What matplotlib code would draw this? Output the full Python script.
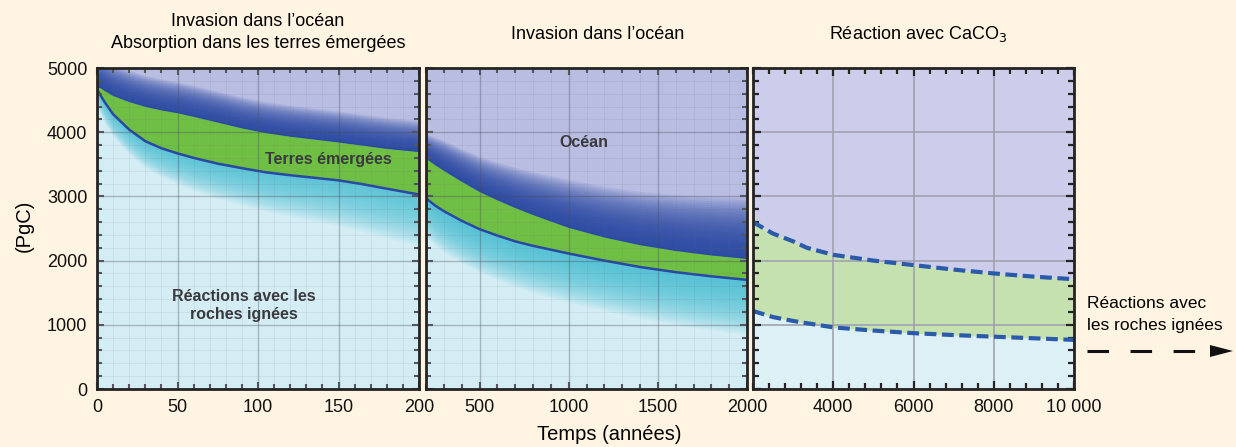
import numpy as np
import matplotlib
matplotlib.use("Agg")
import matplotlib.pyplot as plt
from matplotlib.lines import Line2D
from matplotlib.patches import Polygon
from matplotlib.ticker import MultipleLocator, FixedLocator, FixedFormatter

plt.rcParams['font.family'] = ['Liberation Sans', 'DejaVu Sans']
plt.rcParams['lines.scale_dashes'] = False

# ---------------- data ----------------
# Panel 1: 0-200 years
p1_t = [0, 2, 5, 10, 20, 30, 40, 50, 60, 75, 90, 105, 120, 135, 150, 165, 180, 200]
p1_land_top = [4690, 4700, 4650, 4575, 4480, 4405, 4350, 4305, 4250, 4160, 4070,
               3995, 3940, 3895, 3850, 3800, 3750, 3700]
p1_land_bottom = [4670, 4580, 4460, 4280, 4040, 3860, 3750, 3670, 3600, 3510, 3440,
                  3375, 3330, 3290, 3250, 3190, 3120, 3030]

# Panel 2: 200-2000 years
p2_t = [200, 250, 300, 400, 500, 600, 700, 800, 900, 1000, 1200, 1400, 1600, 1800, 2000]
p2_land_top = [3600, 3500, 3410, 3240, 3080, 2950, 2830, 2720, 2620, 2520, 2370,
               2250, 2160, 2090, 2035]
p2_land_bottom = [2970, 2860, 2770, 2620, 2490, 2390, 2300, 2230, 2170, 2110, 2000,
                  1900, 1820, 1755, 1700]

# Panel 3: 2000-10000 years
p3_t = [2000, 2500, 3000, 3340, 4000, 5000, 6000, 7000, 8000, 9000, 10000]
p3_caco3_top = [2600, 2420, 2300, 2200, 2090, 2000, 1930, 1860, 1800, 1750, 1710]
p3_caco3_bottom = [1215, 1120, 1060, 1025, 960, 910, 870, 840, 815, 790, 765]

titles = ["Invasion dans l\u2019océan", "Absorption dans les terres émergées",
          "Invasion dans l\u2019océan", "Réaction avec CaCO$_3$"]
p1_xticks = [0, 50, 100, 150, 200]
p2_xticks = [500, 1000, 1500, 2000]
p3_xticks = [4000, 6000, 8000, 10000]
p3_xticklabels = ["4000", "6000", "8000", "10 000"]
yticks = [0, 1000, 2000, 3000, 4000, 5000]

# ---------------- style ----------------
BG = '#fff4e1'
LAV = '#b9bde2'
LAV3 = '#cbcdea'
DARKBLUE = '#2848a4'
GREEN = '#6fbf45'
GREEN3 = '#c6e1b0'
CYAN = '#4cc2d6'
LIGHTCYAN = '#d4edf4'
LIGHTCYAN3 = '#dcf0f5'
SPINE = '#262324'

W, H = 1236, 447
fig = plt.figure(figsize=(W / 100, H / 100), dpi=100, facecolor=BG)

def box(x0, x1, y0=68, y1=389):
    return [x0 / W, 1 - y1 / H, (x1 - x0) / W, (y1 - y0) / H]

ax1 = fig.add_axes(box(97, 419))
ax2 = fig.add_axes(box(426, 747))
ax3 = fig.add_axes(box(753, 1074))


def glow(ax, t, base, width, color, n, alpha, direction):
    t = np.asarray(t, float)
    base = np.asarray(base, float)
    for k in range(1, n + 1):
        f = k / n
        ax.fill_between(t, base, base + direction * width * f, color=color,
                        alpha=alpha, lw=0, zorder=1.2)


def raster_panel(ax, t, top, bottom, blue_w, cyan_w, cyan_alpha):
    t = np.asarray(t, float)
    top = np.asarray(top, float)
    bottom = np.asarray(bottom, float)
    ax.set_facecolor(LIGHTCYAN)
    ax.fill_between(t, top, 5000, color=LAV, lw=0, zorder=1)
    glow(ax, t, bottom, cyan_w, CYAN, 25, cyan_alpha, -1)
    glow(ax, t, top, blue_w, DARKBLUE, 28, 0.09, +1)
    ax.fill_between(t, bottom, top, color=GREEN, lw=0, zorder=1.5)
    ax.plot(t, bottom, color=DARKBLUE, lw=1.8, zorder=2)
    ax.plot(t, top, color=DARKBLUE, lw=1.0, zorder=2, alpha=0.8)


# glow extents (style)
blue_w1 = np.full(len(p1_t), 480.0)
cyan_w1 = np.linspace(250, 800, len(p1_t))
raster_panel(ax1, p1_t, p1_land_top, p1_land_bottom, blue_w1, cyan_w1, 0.065)
blue_w2 = np.linspace(380, 950, len(p2_t))
cyan_w2 = np.linspace(600, 850, len(p2_t))
raster_panel(ax2, p2_t, p2_land_top, p2_land_bottom, blue_w2, cyan_w2, 0.08)

# panel 3
t3 = np.asarray(p3_t, float)
ax3.set_facecolor(LIGHTCYAN3)
ax3.fill_between(t3, p3_caco3_top, 5000, color=LAV3, lw=0, zorder=1)
ax3.fill_between(t3, p3_caco3_bottom, p3_caco3_top, color=GREEN3, lw=0, zorder=1)
for ys in (p3_caco3_top, p3_caco3_bottom):
    ax3.plot(t3, ys, color='#2c5aab', lw=3.0, dashes=(8.5, 4), zorder=3,
             solid_capstyle='butt', dash_capstyle='butt')

# axes limits/ticks
ax1.set_xlim(0, 200)
ax2.set_xlim(200, 2000)
ax3.set_xlim(2000, 10000)
for ax in (ax1, ax2, ax3):
    ax.set_ylim(0, 5000)
    ax.yaxis.set_major_locator(FixedLocator(yticks))
    ax.yaxis.set_minor_locator(MultipleLocator(200))
    for s in ax.spines.values():
        s.set_color(SPINE)
        s.set_linewidth(2)
        s.set_zorder(5)

ax1.xaxis.set_major_locator(FixedLocator(p1_xticks))
ax1.xaxis.set_minor_locator(MultipleLocator(10))
ax2.xaxis.set_major_locator(FixedLocator(p2_xticks))
ax2.xaxis.set_minor_locator(MultipleLocator(100))
ax3.xaxis.set_major_locator(FixedLocator(p3_xticks))
ax3.xaxis.set_major_formatter(FixedFormatter(p3_xticklabels))
ax3.xaxis.set_minor_locator(MultipleLocator(400))

for ax in (ax1, ax2):
    ax.set_axisbelow(False)
    ax.grid(True, which='major', color='#4a4a55', lw=1.0, alpha=0.35)
    ax.grid(True, which='minor', color='#6a6a7a', lw=0.6, alpha=0.12)
    ax.tick_params(which='both', direction='in', top=True, right=True,
                   color='#555560', labelsize=13, pad=7)
    ax.tick_params(which='major', length=5, width=1.5)
    ax.tick_params(which='minor', length=3.5, width=1.5)

ax3.set_axisbelow(False)
ax3.grid(True, which='major', color='#a0a0ae', lw=1.3, alpha=0.9)
ax3.tick_params(which='both', direction='in', top=True, right=True,
                color=SPINE, labelsize=13, pad=7)
ax3.tick_params(which='major', length=6, width=1.6)
ax3.tick_params(which='minor', length=4, width=1.6)

ax2.tick_params(labelleft=False)
ax3.tick_params(labelleft=False)
for ax in (ax1, ax2, ax3):
    for lab in ax.get_xticklabels() + ax.get_yticklabels():
        lab.set_color('#111111')

# in-panel labels
txt_kw = dict(color='#3a3a3e', fontsize=11.5, fontweight='bold', zorder=4,
              ha='center', va='center')
ax1.text(144, 3570, "Terres émergées", **txt_kw)
ax1.text(91, 1300, "Réactions avec les\nroches ignées", linespacing=1.25, **txt_kw)
ax2.text(1086, 3840, "Océan", **txt_kw)

# titles
fig.text(258 / W, 1 - 26.5 / H, titles[0], ha='center', va='baseline', fontsize=13)
fig.text(258 / W, 1 - 48.5 / H, titles[1], ha='center', va='baseline', fontsize=13)
fig.text(598 / W, 1 - 39 / H, titles[2], ha='center', va='baseline', fontsize=13)
fig.text(918 / W, 1 - 39 / H, titles[3], ha='center', va='baseline', fontsize=13)

# axis labels
fig.text(609 / W, 1 - 440 / H, "Temps (années)", ha='center', va='baseline', fontsize=14.5)
fig.text(24 / W, 1 - 226 / H, "(PgC)", ha='center', va='center', rotation=90, fontsize=14.5)

# right annotation
fig.text(1087 / W, 1 - 308 / H, "Réactions avec", ha='left', va='baseline', fontsize=12.5)
fig.text(1087 / W, 1 - 330 / H, "les roches ignées", ha='left', va='baseline', fontsize=12.5)
fig.add_artist(Line2D([1087 / W, 1198 / W], [1 - 351 / H, 1 - 351 / H],
                      transform=fig.transFigure, color='#111111', lw=2.2,
                      dashes=(15.5, 15.5), solid_capstyle='butt'))
fig.add_artist(Polygon([[1210 / W, 1 - 345 / H], [1210 / W, 1 - 357 / H],
                        [1233 / W, 1 - 351 / H]], closed=True,
                       transform=fig.transFigure, color='#111111', lw=0))

fig.savefig("out.png", dpi=100, facecolor=BG)
